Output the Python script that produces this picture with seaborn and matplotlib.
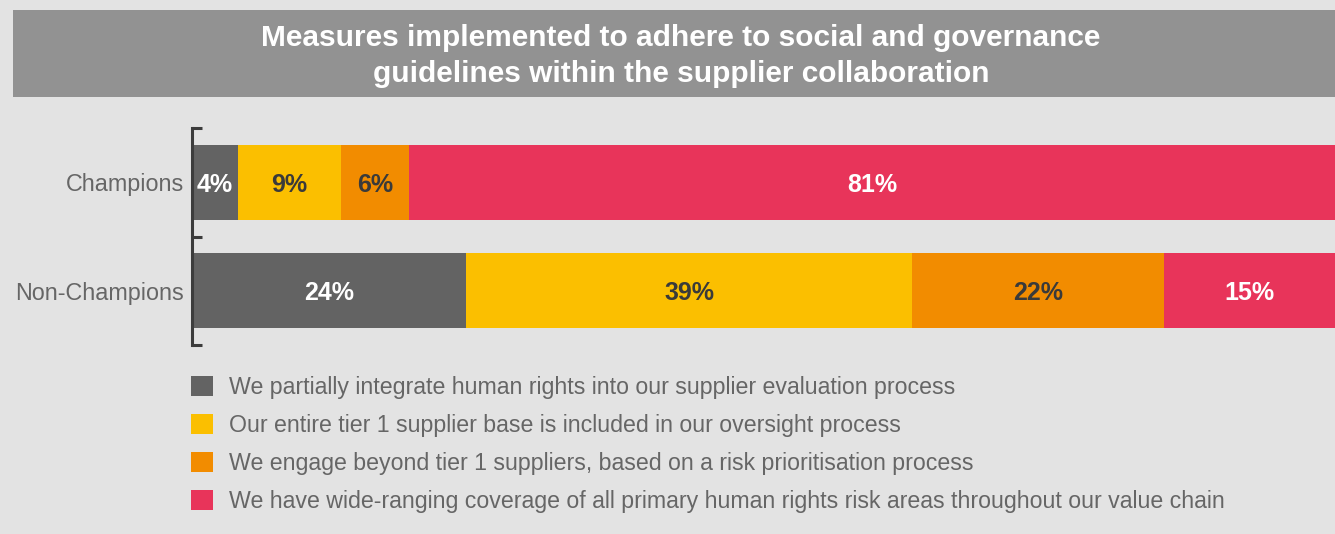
import matplotlib
matplotlib.use("Agg")
import matplotlib.pyplot as plt
from matplotlib.patches import Patch, Rectangle
import numpy as np
import pandas as pd
import seaborn as sns

# Survey data: share of companies per measure level
groups = ["Champions", "Non-Champions"]
measures = [
    "We partially integrate human rights into our supplier evaluation process",
    "Our entire tier 1 supplier base is included in our oversight process",
    "We engage beyond tier 1 suppliers, based on a risk prioritisation process",
    "We have wide-ranging coverage of all primary human rights risk areas throughout our value chain",
]
partial = [4, 24]
tier1 = [9, 39]
beyond = [6, 22]
wide = [81, 15]

colors = ["#636363", "#fbbf00", "#f28c00", "#e8345a"]
label_colors = ["white", "#3a3a3a", "#3a3a3a", "white"]
bg = "#e3e3e3"
text_gray = "#666666"

sns.set_theme(style="white")
plt.rcParams["font.family"] = ["Liberation Sans", "DejaVu Sans"]

series = [partial, tier1, beyond, wide]
values = np.array(series, dtype=float)          # shape (measures, groups)
cum = np.cumsum(values, axis=0)

fig = plt.figure(figsize=(13.35, 5.34), dpi=100, facecolor=bg)

# Title band
fig.patches.append(Rectangle((13 / 1335, 1 - 97 / 534), 1 - 13 / 1335, 87 / 534,
                             transform=fig.transFigure, facecolor="#929292",
                             edgecolor="none", zorder=0))
fig.text(681 / 1335, 1 - 56 / 534,
         "Measures implemented to adhere to social and governance\n"
         "guidelines within the supplier collaboration",
         ha="center", va="center", color="white", fontsize=21.5,
         fontweight="bold", linespacing=1.33)

ax = fig.add_axes([192 / 1335, 1 - 345 / 534, 1 - 192 / 1335, 217 / 534])
ax.set_facecolor(bg)

# Stacked bars: draw cumulative totals from the largest down so each
# segment shows through with its own width
for i in range(len(series) - 1, -1, -1):
    df = pd.DataFrame({"group": groups, "total": cum[i]})
    sns.barplot(data=df, x="total", y="group", orient="h", color=colors[i],
                width=0.694, saturation=1, ax=ax, linewidth=0, zorder=2)

for i in range(len(series)):
    for j, g in enumerate(groups):
        v = values[i, j]
        ax.text(cum[i, j] - v / 2, j + 0.025, f"{int(v)}%", ha="center",
                va="center", color=label_colors[i], fontsize=18,
                fontweight="bold", zorder=3)

ax.set_xlim(0, 100)
ax.set_ylim(1.5, -0.5)
ax.set_xlabel("")
ax.set_ylabel("")
ax.set_xticks([])
for s in ["top", "right", "bottom"]:
    ax.spines[s].set_visible(False)
ax.spines["left"].set_color("#3c3c3c")
ax.spines["left"].set_linewidth(2.2)
ax.set_yticks([0, 1])
ax.set_yticklabels(groups)
ax.set_yticks([-0.5, 0.5, 1.5], minor=True)
ax.tick_params(axis="y", which="major", length=0, pad=6, labelsize=16.8,
               labelcolor=text_gray)
ax.tick_params(axis="y", which="minor", length=7, width=2.2, direction="in",
               color="#3c3c3c", left=True)

handles = [Patch(facecolor=c, edgecolor="none") for c in colors]
fig.legend(handles, measures, loc="upper left",
           bbox_to_anchor=(191 / 1335, 1 - 376 / 534), frameon=False,
           fontsize=16.7, labelcolor=text_gray, handlelength=0.95,
           handleheight=0.95, handletextpad=0.7, labelspacing=0.64,
           borderaxespad=0, borderpad=0)

fig.savefig("out.png", dpi=100, facecolor=bg)
